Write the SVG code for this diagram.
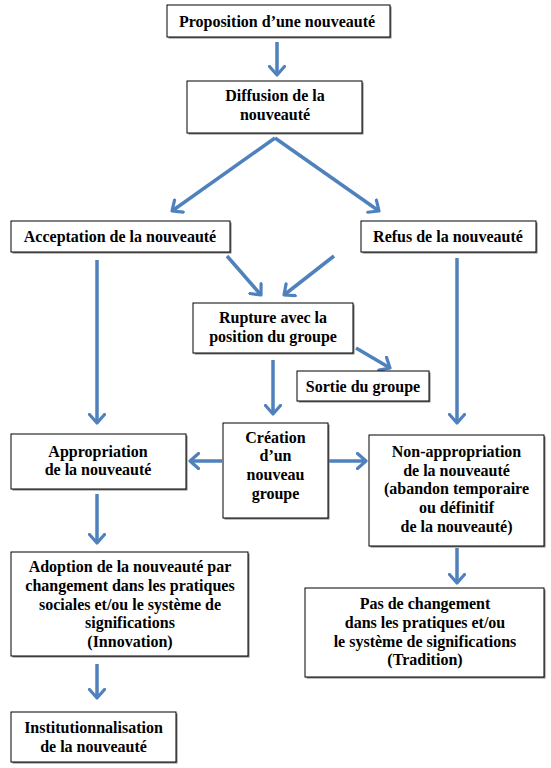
<svg xmlns="http://www.w3.org/2000/svg" width="551" height="768" viewBox="0 0 551 768">
<defs>
<style>
.box{fill:#fff;stroke:#000;stroke-width:1}
.sh{fill:#7f7f7f}
.t{font-family:"Liberation Serif","Times New Roman",serif;font-weight:bold;font-size:16px;fill:#000;text-anchor:middle}
.c{stroke:#4F81BD;stroke-width:3.5;fill:none;marker-end:url(#ah)}
</style>
<marker id="ah" markerUnits="userSpaceOnUse" viewBox="0 0 12 18" markerWidth="12" markerHeight="18" refX="10" refY="9" orient="auto">
<path d="M1.5,1.5 L10,9 L1.5,16.5" fill="none" stroke="#4F81BD" stroke-width="3.2" stroke-linecap="round" stroke-linejoin="round"/>
</marker>
</defs>
<rect width="551" height="768" fill="#fff"/>
<g id="connectors">
<line class="c" x1="277" y1="42" x2="277" y2="75"/>
<line class="c" x1="275" y1="138" x2="172" y2="211"/>
<line class="c" x1="275" y1="138" x2="379" y2="211"/>
<line class="c" x1="97" y1="260" x2="97" y2="423"/>
<line class="c" x1="227" y1="256" x2="261" y2="295"/>
<line class="c" x1="334" y1="256" x2="284" y2="295"/>
<line class="c" x1="356" y1="348" x2="390" y2="368"/>
<line class="c" x1="273" y1="360" x2="273" y2="414"/>
<line class="c" x1="457" y1="258" x2="457" y2="423"/>
<line class="c" x1="222" y1="461" x2="190" y2="461"/>
<line class="c" x1="329" y1="461" x2="366" y2="461"/>
<line class="c" x1="97" y1="494" x2="97" y2="543"/>
<line class="c" x1="97" y1="664" x2="97" y2="698"/>
<line class="c" x1="457" y1="548" x2="457" y2="583"/>
</g>
<g id="proposition">
<rect class="sh" x="168.5" y="6.5" width="223" height="32"/>
<rect class="box" x="167" y="5" width="223" height="32"/>
<text class="t" x="277" y="27">Proposition d’une nouveauté</text>
</g>
<g id="diffusion">
<rect class="sh" x="188.5" y="82.5" width="175" height="52"/>
<rect class="box" x="187" y="81" width="175" height="52"/>
<text class="t" x="275" y="101">Diffusion de la</text>
<text class="t" x="275" y="120">nouveauté</text>
</g>
<g id="acceptation">
<rect class="sh" x="12.5" y="222.5" width="219" height="31"/>
<rect class="box" x="11" y="221" width="219" height="31"/>
<text class="t" x="120" y="242">Acceptation de la nouveauté</text>
</g>
<g id="refus">
<rect class="sh" x="362.5" y="222.5" width="175" height="31"/>
<rect class="box" x="361" y="221" width="175" height="31"/>
<text class="t" x="448" y="242">Refus de la nouveauté</text>
</g>
<g id="rupture">
<rect class="sh" x="194.5" y="304.5" width="160" height="50"/>
<rect class="box" x="193" y="303" width="160" height="50"/>
<text class="t" x="273" y="323">Rupture avec la</text>
<text class="t" x="273" y="342">position du groupe</text>
</g>
<g id="sortie">
<rect class="sh" x="298.5" y="372.5" width="132" height="30"/>
<rect class="box" x="297" y="371" width="132" height="30"/>
<text class="t" x="363" y="392">Sortie du groupe</text>
</g>
<g id="appropriation">
<rect class="sh" x="12.5" y="435.5" width="175" height="55"/>
<rect class="box" x="11" y="434" width="175" height="55"/>
<text class="t" x="98" y="457">Appropriation</text>
<text class="t" x="98" y="475">de la nouveauté</text>
</g>
<g id="creation">
<rect class="sh" x="224.5" y="424.5" width="105" height="95"/>
<rect class="box" x="223" y="423" width="105" height="95"/>
<text class="t" x="275.5" y="443">Création</text>
<text class="t" x="275.5" y="461">d’un</text>
<text class="t" x="275.5" y="480">nouveau</text>
<text class="t" x="275.5" y="499">groupe</text>
</g>
<g id="non-appropriation">
<rect class="sh" x="370.5" y="436.5" width="175" height="111"/>
<rect class="box" x="369" y="435" width="175" height="111"/>
<text class="t" x="456.5" y="457">Non-appropriation</text>
<text class="t" x="456.5" y="476">de la nouveauté</text>
<text class="t" x="456.5" y="494">(abandon temporaire</text>
<text class="t" x="456.5" y="513">ou définitif</text>
<text class="t" x="456.5" y="532">de la nouveauté)</text>
</g>
<g id="adoption">
<rect class="sh" x="12.5" y="553.5" width="237" height="104"/>
<rect class="box" x="11" y="552" width="237" height="104"/>
<text class="t" x="130" y="572">Adoption de la nouveauté par</text>
<text class="t" x="130" y="591">changement dans les pratiques</text>
<text class="t" x="130" y="610">sociales et/ou le système de</text>
<text class="t" x="130" y="628">significations</text>
<text class="t" x="130" y="647">(Innovation)</text>
</g>
<g id="institutionnalisation">
<rect class="sh" x="12.5" y="713.5" width="165" height="50"/>
<rect class="box" x="11" y="712" width="165" height="50"/>
<text class="t" x="93.5" y="733">Institutionnalisation</text>
<text class="t" x="93.5" y="752">de la nouveauté</text>
</g>
<g id="pas-de-changement">
<rect class="sh" x="306.5" y="589.5" width="239" height="89"/>
<rect class="box" x="305" y="588" width="239" height="89"/>
<text class="t" x="425" y="609">Pas de changement</text>
<text class="t" x="425" y="628">dans les pratiques et/ou</text>
<text class="t" x="425" y="647">le système de significations</text>
<text class="t" x="425" y="665">(Tradition)</text>
</g>
</svg>
